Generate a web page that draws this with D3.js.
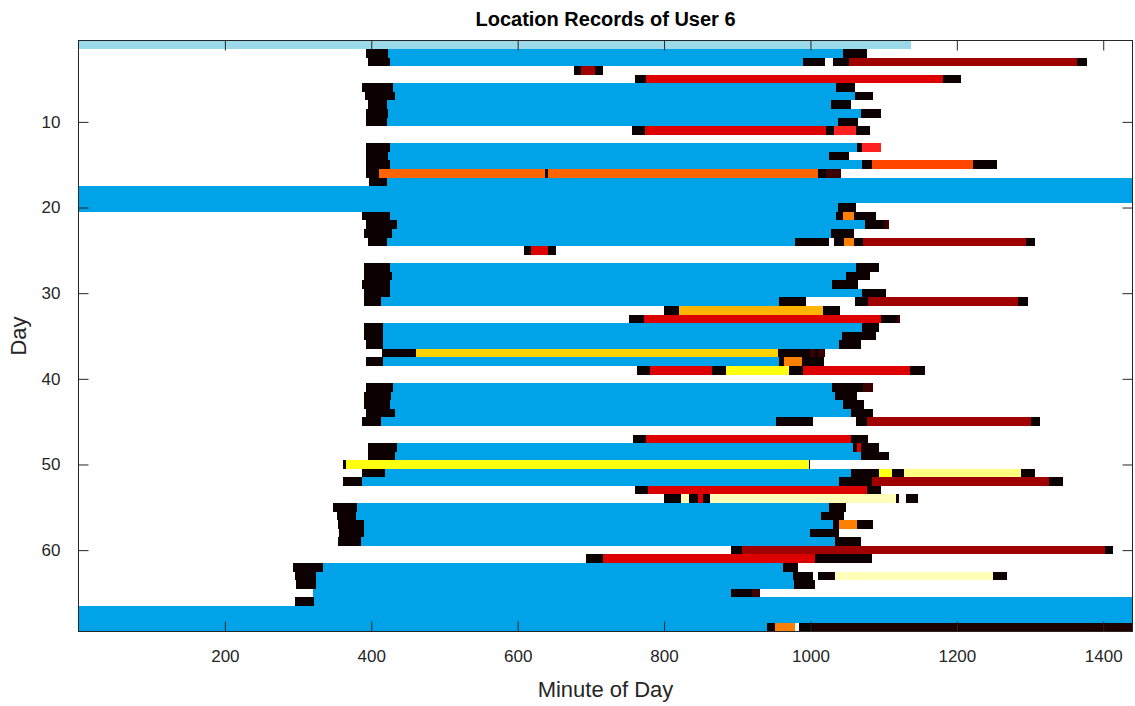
<!DOCTYPE html>
<html><head><meta charset="utf-8">
<script src="https://cdn.jsdelivr.net/npm/d3@7"></script>
<style>
body{margin:0;background:#fff;}
text{font-family:"Liberation Sans",Arial,Helvetica,sans-serif;}
</style></head>
<body><svg id="chart" width="1135" height="706"></svg>
<script>
// ---- DATA: [day, startMinute, endMinute] per location ----
const xTicks = [200,400,600,800,1000,1200,1400];
const yTicks = [10,20,30,40,50,60];
const titleText = "Location Records of User 6";
const xLabel = "Minute of Day";
const yLabel = "Day";

const locLightBlue = [[1,0,1137]];
const locBlue = [[2,423,1044],[3,426,990],[6,430,1035],[7,432,1061],[8,422,1028],[9,423,1069],[10,421,1037],
 [13,426,1064],[14,423,1026],[15,426,1070],[17,421,1440],[18,0,1440],[19,0,1440],[20,0,1038],[21,426,1035],
 [22,435,1074],[23,428,1028],[24,421,979],[27,426,1062],[28,428,1049],[29,426,1030],[30,426,1070],[31,413,957],
 [34,416,1070],[35,416,1043],[36,416,1039],[38,416,957],[41,430,1030],[42,427,1034],[43,426,1045],[44,432,1056],
 [45,413,953],[48,435,1058],[49,432,1069],[51,419,1056],[52,388,1039],[55,381,1026],[56,379,1014],[57,390,1031],
 [58,390,999],[59,386,1034],[62,334,962],[63,324,976],[64,324,977],[65,320,891],[66,322,1440],[67,0,1440],
 [68,0,1440],[69,0,941]];
const locBlack = [[2,393,423],[2,1044,1077],[3,395,426],[3,990,1020],[3,1031,1052],[3,1364,1378],
 [4,677,687],[4,706,717],[5,760,776],[5,1181,1206],[6,388,430],[6,1035,1061],[7,391,432],[7,1061,1086],
 [8,395,422],[8,1028,1056],[9,393,423],[9,1069,1096],[10,393,421],[10,1037,1065],[11,756,774],[11,1021,1032],
 [11,1062,1081],[13,393,426],[13,1064,1070],[14,393,423],[14,1026,1053],[15,393,426],[15,1070,1084],[15,1222,1255],
 [16,393,410],[16,637,642],[16,1011,1021],[17,397,421],[20,1038,1062],[21,388,426],[21,1035,1044],[21,1059,1090],
 [22,393,435],[22,1074,1100],[23,390,428],[23,1028,1059],[24,395,421],[24,979,1026],[24,1032,1046],[24,1059,1072],
 [24,1295,1307],[25,609,618],[25,641,653],[27,390,426],[27,1062,1093],[28,390,428],[28,1049,1081],[29,388,426],
 [29,1030,1065],[30,390,426],[30,1070,1103],[31,390,413],[31,957,994],[31,1061,1079],[31,1284,1297],[32,800,821],
 [32,1017,1041],[33,752,772],[33,1096,1118],[34,390,416],[34,1070,1093],[35,390,416],[35,1043,1090],[36,393,416],
 [36,1039,1069],[37,414,461],[37,955,1020],[38,393,416],[38,957,964],[38,989,1018],[39,763,781],[39,865,884],
 [39,971,990],[39,1136,1156],[41,393,430],[41,1030,1072],[42,390,427],[42,1034,1063],[43,390,426],[43,1045,1073],
 [44,393,432],[44,1056,1086],[45,388,413],[45,953,1004],[45,1062,1077],[45,1301,1314],[47,757,776],[47,1056,1079],
 [48,395,435],[48,1058,1063],[48,1069,1093],[49,395,432],[49,1069,1108],[50,362,365],[50,998,1000],[51,388,419],
 [51,1056,1093],[51,1112,1128],[51,1288,1307],[52,362,388],[52,1039,1084],[52,1326,1345],[53,760,778],[53,1077,1097],
 [54,800,823],[54,834,847],[54,853,863],[54,926,928],[54,1117,1121],[54,1131,1147],[55,348,381],[55,1026,1048],
 [56,353,379],[56,1014,1046],[57,355,390],[57,1031,1039],[57,1063,1086],[58,356,390],[58,999,1039],[59,355,386],
 [59,1034,1069],[60,891,906],[60,1402,1413],[61,694,717],[61,1006,1084],[62,293,334],[62,962,983],[63,296,324],
 [63,976,1004],[63,1011,1034],[63,1249,1269],[64,297,324],[64,977,1006],[65,891,920],[66,296,322],[69,941,952],
 [69,985,1003]];
const locDarkRed = [[3,1052,1364],[4,687,706],[24,1072,1295],[31,1079,1284],[45,1077,1301],[52,1084,1326],[60,906,1402]];
const locRed = [[5,776,1181],[11,774,1021],[25,618,641],[33,772,1096],[39,781,865],[39,990,1136],[47,776,1056],
 [48,1063,1069],[53,778,1077],[54,847,853],[61,717,1006]];
const locBrightRed = [[11,1032,1062],[13,1070,1096]];
const locOrangeRed = [[15,1084,1222]];
const locOrange = [[16,410,637],[16,642,1011]];
const locLightOrange = [[21,1044,1059],[24,1046,1059],[38,964,989],[57,1039,1063],[69,952,979]];
const locAmber = [[32,821,1017]];
const locGold = [[37,461,955]];
const locYellow = [[39,884,971],[50,365,998],[51,1093,1112]];
const locLightYellow = [[51,1128,1288]];
const locPaleYellow = [[54,823,834],[54,863,1117],[63,1034,1249]];
const locMaroon = [[16,1021,1042],[22,1100,1108],[33,1118,1123],[37,999,1006],[37,1011,1018],[41,1072,1086],[65,920,931]];
const locVeryDark = [[69,1003,1440]];

// ---- build table for drawing ----
const groups = [
 ["lightblue",locLightBlue],["blue",locBlue],["black",locBlack],["darkred",locDarkRed],["red",locRed],
 ["brightred",locBrightRed],["orangered",locOrangeRed],["orange",locOrange],["lightorange",locLightOrange],
 ["amber",locAmber],["gold",locGold],["yellow",locYellow],["lightyellow",locLightYellow],
 ["paleyellow",locPaleYellow],["maroon",locMaroon],["verydark",locVeryDark]];
const segs = [];
groups.forEach(([k,arr])=>arr.forEach(([d,s,e])=>segs.push({loc:k,day:d,start:s,end:e})));

const color = d3.scaleOrdinal()
 .domain(groups.map(g=>g[0]))
 .range(["#99D9EA","#00A2E8","#0C0000","#A00000","#DD0000","#FF2020","#FF4500","#FF6400","#FF8000",
         "#FFB400","#FFD200","#FFFF10","#FFFF80","#FFFFB8","#3C0000","#1E0000"]);

const svg = d3.select("#chart");
const L=78.5, R=1132.5, T=40.5, B=631.5;
const x = d3.scaleLinear().domain([0,1440]).range([L,R]);
const y = d3.scaleLinear().domain([0.5,69.5]).range([T,B]);

svg.append("g").attr("shape-rendering","crispEdges")
 .selectAll("rect").data(segs).join("rect")
 .attr("x",d=>x(d.start)).attr("width",d=>x(d.end)-x(d.start))
 .attr("y",d=>y(d.day-0.5)).attr("height",d=>y(d.day+0.5)-y(d.day-0.5))
 .attr("fill",d=>color(d.loc));

const axCol="#262626", tl=10;
const xAxis = d3.axisBottom(x).tickValues(xTicks).tickSize(-tl).tickPadding(tl+8).tickFormat(d3.format("d"));
const gx = svg.append("g").attr("transform",`translate(0,${B})`).call(xAxis);
const xTop = d3.axisTop(x).tickValues(xTicks).tickSize(-tl).tickFormat("");
const gxt = svg.append("g").attr("transform",`translate(0,${T})`).call(xTop);
const yAxis = d3.axisLeft(y).tickValues(yTicks).tickSize(-tl).tickPadding(tl+8).tickFormat(d3.format("d"));
const gy = svg.append("g").attr("transform",`translate(${L},0)`).call(yAxis);
const yRight = d3.axisRight(y).tickValues(yTicks).tickSize(-tl).tickFormat("");
const gyr = svg.append("g").attr("transform",`translate(${R},0)`).call(yRight);
[gx,gxt,gy,gyr].forEach(g=>{
  g.select(".domain").remove();
  g.selectAll("line").attr("stroke",axCol).attr("stroke-width",1);
  g.selectAll("text").attr("fill",axCol).style("font-size","17px");
});
svg.append("rect").attr("x",L).attr("y",T).attr("width",R-L).attr("height",B-T)
 .attr("fill","none").attr("stroke",axCol).attr("stroke-width",1).attr("shape-rendering","crispEdges");

svg.append("text").attr("x",(L+R)/2).attr("y",26).attr("text-anchor","middle")
 .style("font-size","20px").style("font-weight","bold").attr("fill","#000").text(titleText);
svg.append("text").attr("x",(L+R)/2).attr("y",697).attr("text-anchor","middle")
 .style("font-size","22px").attr("fill",axCol).text(xLabel);
svg.append("text").attr("transform",`translate(26,${(T+B)/2}) rotate(-90)`).attr("text-anchor","middle")
 .style("font-size","22px").attr("fill",axCol).text(yLabel);
</script></body></html>
